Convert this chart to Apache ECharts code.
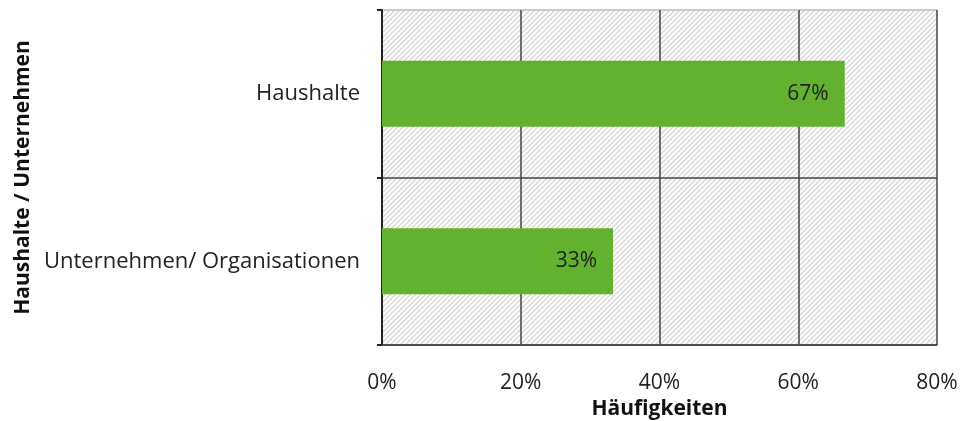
<!DOCTYPE html>
<html><head><meta charset="utf-8">
<script src="https://cdn.jsdelivr.net/npm/echarts@6/dist/echarts.min.js"></script>
<style>html,body{margin:0;padding:0;background:#fff}#c{width:963px;height:421px}</style>
</head><body><div id="c"></div>
<script>
const categories = ['Unternehmen/ Organisationen', 'Haushalte'];
const values = [33.3, 66.7];
const xTicks = [0, 20, 40, 60, 80];

function hatch() {
  const n = 5;
  const c = document.createElement('canvas');
  c.width = n; c.height = n;
  const g = c.getContext('2d');
  g.fillStyle = '#fbfbfb'; g.fillRect(0, 0, n, n);
  g.strokeStyle = '#cfcfcf'; g.lineWidth = 1.1;
  for (let k = -1; k <= 1; k++) {
    g.beginPath(); g.moveTo(k * n, n); g.lineTo(k * n + n, 0); g.stroke();
  }
  return c;
}

const chart = echarts.init(document.getElementById('c'));
const font = '"Open Sans", "Noto Sans", sans-serif';
chart.setOption({
  animation: false,
  textStyle: { fontFamily: font },
  grid: { left: 382, right: 26, top: 10, bottom: 76, show: true, outerBoundsMode: 'none', containLabel: false,
    backgroundColor: { image: hatch(), repeat: 'repeat' }, borderWidth: 0 },
  xAxis: {
    type: 'value', min: xTicks[0], max: xTicks[xTicks.length - 1], interval: 20,
    name: 'Häufigkeiten', nameLocation: 'middle', nameGap: 52,
    nameTextStyle: { fontSize: 21, fontWeight: 'bold', color: '#111', fontFamily: font },
    axisLine: { show: true, lineStyle: { color: '#444', width: 1.5 } },
    axisTick: { show: false },
    axisLabel: { fontSize: 21, color: '#222', margin: 28, formatter: v => v + '%' },
    splitLine: { show: true, lineStyle: { color: '#444', width: 1.5 } }
  },
  yAxis: {
    type: 'category', data: categories,
    name: 'Haushalte / Unternehmen', nameLocation: 'middle', nameGap: 348, nameRotate: 90,
    nameTextStyle: { fontSize: 21, fontWeight: 'bold', color: '#111', fontFamily: font },
    axisLine: { show: true, lineStyle: { color: '#222', width: 2 } },
    axisTick: { show: true, length: 5, lineStyle: { color: '#222', width: 2 } },
    axisLabel: { fontSize: 22, color: '#222', margin: 22 },
    splitLine: { show: true, lineStyle: { color: ['#444', '#444', '#bbb'], width: 1.5 } }
  },
  series: [{
    type: 'bar', data: values, barWidth: 66,
    itemStyle: { color: '#62B22F' },
    label: { show: true, position: 'insideRight', distance: 16, fontSize: 21, color: '#222',
      formatter: p => Math.round(p.value) + '%' }
  }]
});
</script></body></html>
